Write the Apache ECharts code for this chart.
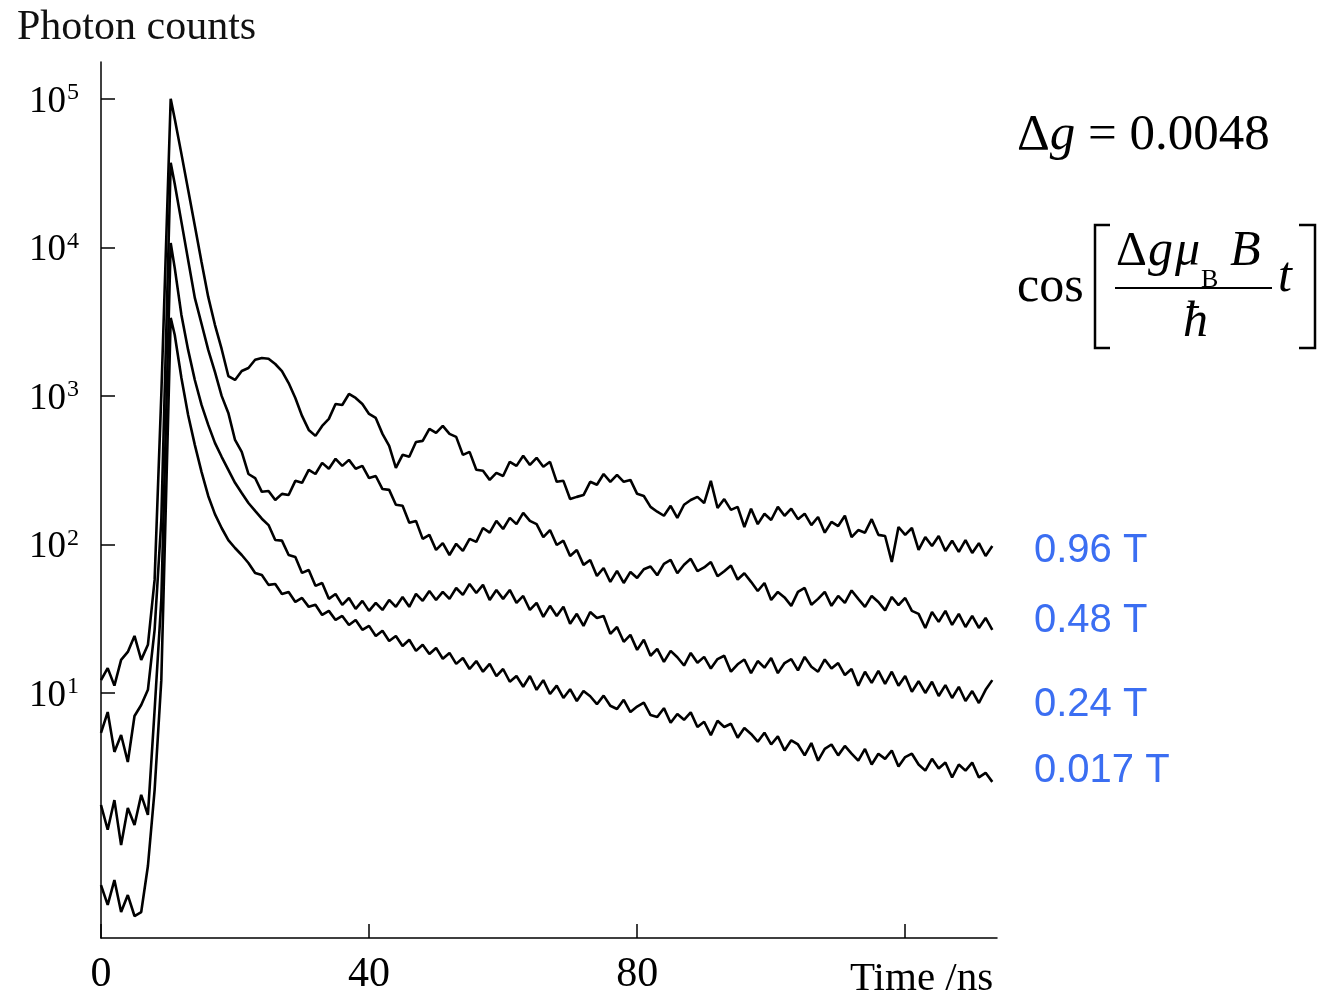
<!DOCTYPE html>
<html><head><meta charset="utf-8">
<script src="https://cdn.jsdelivr.net/npm/echarts@6/dist/echarts.min.js"></script>
<style>html,body{margin:0;padding:0;background:#fff}#c{width:1323px;height:995px}</style>
</head><body><div id="c"></div>
<script>
// time axis (ns)
const timeNs = [0,1,2,3,4,5,6,7,8,9,10.4,11,12,13,14,15,16,17,18,19,20,21,22,23,24,25,26,27,28,29,30,31,32,33,34,35,36,37,38,39,40,41,42,43,44,45,46,47,48,49,50,51,52,53,54,55,56,57,58,59,60,61,62,63,64,65,66,67,68,69,70,71,72,73,74,75,76,77,78,79,80,81,82,83,84,85,86,87,88,89,90,91,92,93,94,95,96,97,98,99,100,101,102,103,104,105,106,107,108,109,110,111,112,113,114,115,116,117,118,119,120,121,122,123,124,125,126,127,128,129,130,131,132,133];
// photon counts, B = 0.96 T
const counts096 = [12.2,14.7,11.2,16.7,18.9,24.2,16.7,21.1,57.7,1020,100000,73300,42600,24400,13960,7980,4640,3010,2070,1360,1280,1470,1540,1750,1800,1780,1640,1470,1220,969,733,590,538,628,700,883,869,1030,969,883,756,711,555,461,328,401,389,490,498,600,564,628,555,530,401,420,318,313,272,303,289,360,338,395,343,383,333,360,264,268,202,209,215,264,252,298,264,294,264,272,219,212,179,166,156,182,151,185,199,209,190,268,176,202,171,179,131,174,137,161,146,179,156,174,148,161,135,153,120,142,133,156,112,125,120,148,116,114,76.2,131,116,129,91.8,112,97.6,114,90.4,106,89,107,87.6,102,83.6,97.6];
// B = 0.48 T
const counts048 = [5.38,7.44,4.01,5.21,3.43,7.0,8.3,10.5,26.6,146,37100,26800,14850,8230,4570,3060,2040,1450,1000,768,505,420,298,280,226,229,199,219,215,268,260,318,298,354,323,377,338,371,323,338,280,289,236,233,185,182,140,144,109,116,91.8,102,84.9,101,90.4,109,104,129,120,144,127,151,137,163,144,137,112,125,99.1,106,83.6,91.8,72.8,78.6,61.4,69.4,55.9,66.3,55.0,65.3,59.5,68.0,71.0,62.0,74.0,78.6,64.0,73.0,80.0,66.0,70.0,76.2,61.0,66.0,72.0,58.0,64.0,56.0,48.6,55.0,42.3,47.9,44.0,38.6,47.9,51.0,39.2,43.0,48.0,38.6,45.0,40.4,49.0,43.0,38.0,45.0,41.0,36.0,44.3,39.0,43.6,35.7,34.1,27.4,35.1,30.1,35.7,28.7,34.1,27.8,33.0,27.4,32.0,26.6];
// B = 0.24 T
const counts024 = [1.76,1.2,1.90,0.946,1.68,1.29,2.06,1.51,7.68,42.3,10700,7280,3510,2040,1280,869,638,483,389,318,260,222,190,168,149,135,107,106,84.9,82.3,64.3,67.3,52.6,55.0,43.0,46.4,39.2,43.6,36.8,41.7,35.7,40.4,36.2,42.3,38.0,44.3,38.0,46.4,41.7,48.6,42.3,47.9,43.0,50.9,45.7,54.2,47.1,53.4,42.3,49.4,43.0,49.4,40.4,45.0,36.2,40.4,32.5,38.6,33.0,38.0,29.2,34.1,28.3,35.1,32.0,33.0,25.0,27.8,22.1,24.6,19.5,22.8,17.8,19.8,16.2,19.2,17.4,15.3,18.6,16.0,17.5,14.6,16.9,17.8,13.9,15.6,16.8,13.6,16.4,14.8,17.2,13.6,15.9,16.9,14.2,17.5,15.0,13.9,16.8,14.6,15.9,13.2,14.5,11.2,13.9,11.7,14.1,11.5,13.9,11.2,13.0,10.2,12.0,10.0,11.9,9.54,11.3,9.25,11.0,8.83,10.3,8.56,10.5,12.2];
// B = 0.017 T
const counts0017 = [0.509,0.374,0.55,0.335,0.436,0.315,0.335,0.684,2.22,12.2,3350,2580,1320,744,468,308,212,160,129,107,94.6,84.9,75.0,64.3,62.3,53.4,54.2,46.4,47.9,41.0,43.6,38.0,39.2,33.5,35.7,31.0,33.0,28.7,31.0,26.6,28.3,24.2,26.2,22.4,24.2,20.7,22.8,19.2,21.1,18.3,20.1,17.0,18.6,15.7,17.2,14.5,16.4,13.9,15.7,13.0,14.5,11.9,13.0,11.0,13.0,10.5,12.2,9.84,11.2,9.25,10.6,8.83,10.3,9.5,8.4,9.6,8.2,7.8,9.0,7.44,8.1,8.6,7.1,6.89,7.9,6.3,7.22,6.6,7.4,5.9,6.4,5.2,6.5,5.9,6.2,5.0,5.8,5.3,4.7,5.4,4.5,5.1,4.1,4.8,4.5,3.8,4.6,3.5,4.2,4.5,3.8,4.4,3.9,3.5,4.2,3.3,3.9,3.6,4.1,3.2,3.7,3.9,3.3,3.0,3.6,3.1,3.4,2.7,3.3,3.0,3.4,2.7,2.9,2.52];

const fieldLabels = ['0.96 T','0.48 T','0.24 T','0.017 T'];
const xTickValues = [0,40,80,120];
const xLabelValues = [0,40,80];
const yTickValues = [10,100,1000,10000,100000];

const serif = "'Liberation Serif','Times New Roman',serif";
const sans = "'Liberation Sans',Arial,sans-serif";
const blue = '#3b6ef2';

function pairs(ys){ return timeNs.map((t,i)=>[t, ys[i]]); }
const allSeries = [counts096, counts048, counts024, counts0017];

const chart = echarts.init(document.getElementById('c'), null, {renderer:'canvas'});

function txt(x, y, text, size, opts){
  return Object.assign({type:'text', x:x, y:y, silent:true,
    style: Object.assign({text:text, fontFamily:serif, fontSize:size, fill:'#000', align:'left', verticalAlign:'middle'}, opts||{})});
}

chart.setOption({
  animation:false,
  backgroundColor:'#fff',
  grid:{left:101, right:326, top:62, bottom:57, containLabel:false, outerBoundsMode:'none'},
  xAxis:{
    type:'value', min:0, max:133.7,
    axisLine:{show:true, onZero:false, lineStyle:{color:'#000', width:1.5}},
    axisTick:{show:true, inside:true, length:14, customValues:xTickValues, lineStyle:{color:'#000', width:1.5}},
    axisLabel:{customValues:xLabelValues, fontFamily:serif, fontSize:42, color:'#000', margin:16},
    splitLine:{show:false}
  },
  yAxis:{
    type:'log', logBase:10, min:0.224, max:177000,
    axisLine:{show:true, lineStyle:{color:'#000', width:1.5}},
    axisTick:{show:true, inside:true, length:14, customValues:yTickValues, lineStyle:{color:'#000', width:1.5}},
    axisLabel:{customValues:yTickValues, margin:22, color:'#000',
      formatter:function(v){ return '{b|10}{s|' + Math.round(Math.log10(v)) + '}'; },
      rich:{ b:{fontFamily:serif, fontSize:37, color:'#000', padding:[6,0,0,0]},
             s:{fontFamily:serif, fontSize:24, color:'#000', padding:[0,0,12,1]} }
    },
    splitLine:{show:false}
  },
  series: allSeries.map((ys, k)=>({
    name: fieldLabels[k], type:'line', data:pairs(ys), showSymbol:false, symbol:'none',
    lineStyle:{color:'#000', width:2.6}, z:3
  })),
  graphic:[
    txt(17, 28, 'Photon counts', 42, {fill:'#111'}),
    txt(850, 979, 'Time /ns', 41),
    {type:'text', x:1017, y:136, silent:true, style:{
      text:'{r|Δ}{i|g}{r| = 0.0048}', verticalAlign:'middle', align:'left',
      rich:{ r:{fontFamily:serif, fontSize:51, fill:'#000'}, i:{fontFamily:serif, fontSize:51, fontStyle:'italic', fill:'#000'} }
    }},
    txt(1017, 288, 'cos', 50),
    {type:'polyline', silent:true, shape:{points:[[1110,225],[1095,225],[1095,348],[1110,348]]}, style:{stroke:'#000', lineWidth:2.5, fill:null}},
    {type:'polyline', silent:true, shape:{points:[[1299,225],[1315,225],[1315,348],[1299,348]]}, style:{stroke:'#000', lineWidth:2.5, fill:null}},
    txt(1116, 252, 'Δ', 48),
    txt(1148, 252, 'g', 50, {fontStyle:'italic'}),
    txt(1175, 252, 'μ', 50, {fontStyle:'italic'}),
    txt(1201, 280, 'B', 26),
    txt(1230, 252, 'B', 50, {fontStyle:'italic'}),
    {type:'line', silent:true, shape:{x1:1115, y1:288, x2:1272, y2:288}, style:{stroke:'#000', lineWidth:2}},
    txt(1183, 323, 'ħ', 50, {fontStyle:'italic'}),
    txt(1278, 278, 't', 50, {fontStyle:'italic'}),
    txt(1034, 551, fieldLabels[0], 40, {fontFamily:sans, fill:blue}),
    txt(1034, 621, fieldLabels[1], 40, {fontFamily:sans, fill:blue}),
    txt(1034, 705, fieldLabels[2], 40, {fontFamily:sans, fill:blue}),
    txt(1034, 771, fieldLabels[3], 40, {fontFamily:sans, fill:blue})
  ]
});
</script>
</body></html>
